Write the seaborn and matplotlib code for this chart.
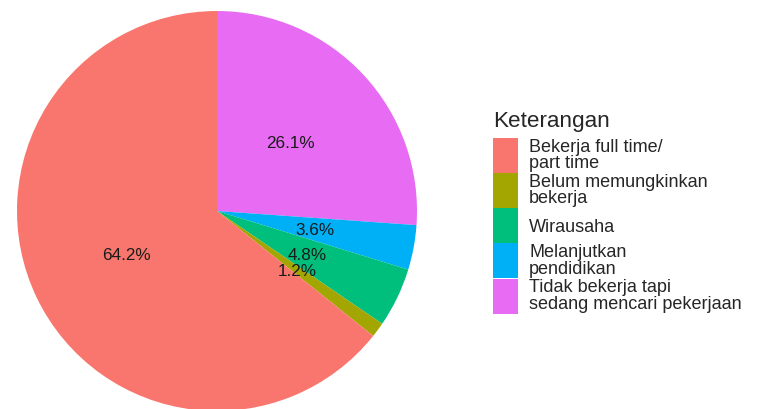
import matplotlib
matplotlib.use("Agg")
import matplotlib.pyplot as plt
import seaborn as sns

# kategori (urutan legenda) dan persentase
categories = ["Bekerja full time/\npart time",
              "Belum memungkinkan\nbekerja",
              "Wirausaha",
              "Melanjutkan\npendidikan",
              "Tidak bekerja tapi\nsedang mencari pekerjaan"]
percents = [64.2, 1.2, 4.8, 3.6, 26.1]
colors = ["#F8766D", "#A3A500", "#00BF7D", "#00B0F6", "#E76BF3"]

sns.set_theme(style="white")
plt.rcParams['font.family'] = ['Liberation Sans', 'DejaVu Sans']

fig = plt.figure(figsize=(7.58, 4.10), dpi=100)
ax = fig.add_axes([17 / 758, -2 / 410, 400 / 758, 400 / 410])

# urutan searah jarum jam mulai dari jam 12 (seperti ggplot coord_polar)
order = [4, 3, 2, 1, 0]
vals = [percents[i] for i in order]
cols = [colors[i] for i in order]
labs = ["{}%".format(percents[i]) for i in order]

wedges, texts = ax.pie(vals, colors=cols, labels=labs, labeldistance=0.5,
                       startangle=90, counterclock=False, radius=1,
                       wedgeprops=dict(linewidth=0, edgecolor="none"),
                       textprops=dict(fontsize=12.3, color="#1a1a1a"))
for t in texts:
    t.set_ha("center")
    t.set_va("center")
ax.set_xlim(-1, 1)
ax.set_ylim(-1, 1)
ax.set_aspect("equal")
ax.axis("off")

handles = [wedges[order.index(i)] for i in range(len(categories))]
leg = fig.legend(handles, categories, title="Keterangan", loc="upper left",
                 bbox_to_anchor=(493 / 758, 1 - 111 / 410), frameon=False,
                 fontsize=13, title_fontsize=16.2, borderpad=0, borderaxespad=0,
                 handlelength=1.4, handleheight=2.6, handletextpad=0.6,
                 labelspacing=0.0, alignment="left")
leg._legend_box.sep = 5  # sedikit jarak antara judul dan kunci
for txt in leg.get_texts():
    txt.set_linespacing(0.95)

fig.savefig("out.png", dpi=100)
